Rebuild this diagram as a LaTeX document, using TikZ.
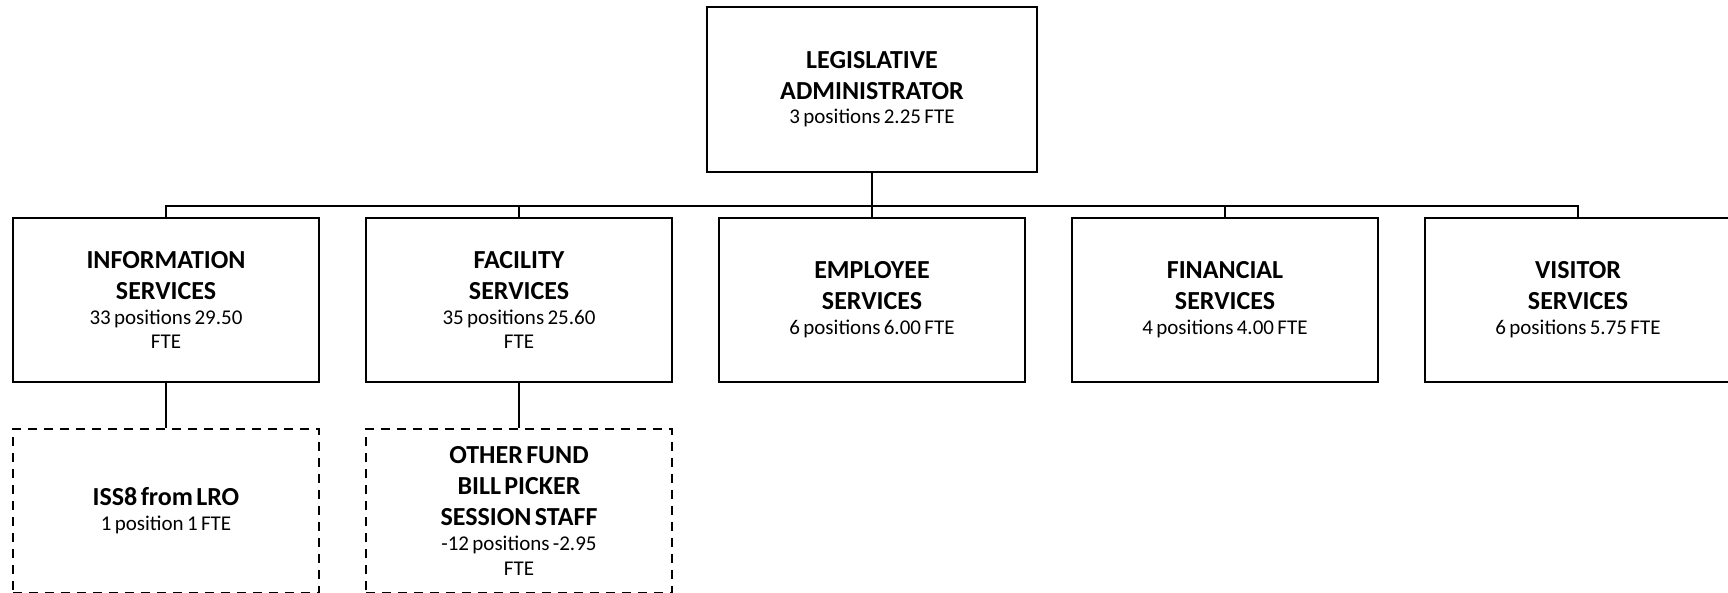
\documentclass[tikz,border=0pt]{standalone}
\usepackage{fontspec}
\setmainfont{Carlito}
\newcommand\uhead{\fontsize{26}{31}\selectfont\bfseries}
\newcommand\ubody{\fontsize{21}{24.7}\selectfont\mdseries}
\tikzset{
  unit/.style={draw, line width=1.8pt, minimum width=306pt, minimum height=164pt,
    inner sep=0pt, text width=296pt, align=center},
  topunit/.style={unit, minimum width=330pt, minimum height=165pt},
  dashbox/.style={unit, dash pattern=on 9pt off 7pt},
  conn/.style={line width=2.6pt},
}
\begin{document}
\begin{tikzpicture}[x=1pt,y=-1pt]
\useasboundingbox (0,0) rectangle (1728,593);
\clip (0,0) rectangle (1728,593);
\node[topunit] (top) at (872,89.2) {\uhead LEGISLATIVE\\ADMINISTRATOR\par\ubody 3 positions 2.25 FTE\par};
\node[unit] (info) at (166,300) {\uhead INFORMATION\\SERVICES\par\ubody 33 positions 29.50\\FTE\par};
\node[unit] (fac) at (519,300) {\uhead FACILITY\\SERVICES\par\ubody 35 positions 25.60\\FTE\par};
\node[unit] (emp) at (872,300) {\uhead EMPLOYEE\\SERVICES\par\ubody 6 positions 6.00 FTE\par};
\node[unit] (fin) at (1225,300) {\uhead FINANCIAL\\SERVICES\par\ubody 4 positions 4.00 FTE\par};
\node[unit] (vis) at (1578,300) {\uhead VISITOR\\SERVICES\par\ubody 6 positions 5.75 FTE\par};
\node[dashbox] (iss) at (166,511) {\uhead ISS8 from LRO\par\ubody 1 position 1 FTE\par};
\node[dashbox] (oth) at (519,511) {\uhead OTHER FUND\\BILL PICKER\\SESSION STAFF\par\ubody -12 positions -2.95\\FTE\par};
\coordinate (bus) at (872,206);
\draw[conn] (top.south) -- (bus);
\draw[conn] (info.north) -- (info.north |- bus) -- (vis.north |- bus) -- (vis.north);
\draw[conn] (fac.north) -- (fac.north |- bus);
\draw[conn] (emp.north) -- (bus);
\draw[conn] (fin.north) -- (fin.north |- bus);
\draw[conn] (info.south) -- (iss.north);
\draw[conn] (fac.south) -- (oth.north);
\end{tikzpicture}
\end{document}
